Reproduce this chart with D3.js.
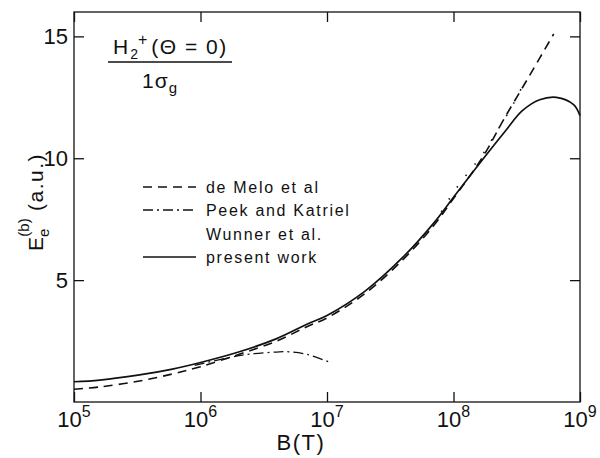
<!DOCTYPE html>
<html><head><meta charset="utf-8">
<script src="https://cdn.jsdelivr.net/npm/d3@7"></script>
<style>body{margin:0;background:#fff}svg{display:block}text{font-family:"Liberation Sans",Arial,sans-serif;fill:#111}</style>
</head><body><svg id="c" width="600" height="458"></svg>
<script>
const xTicks = [1e5, 1e6, 1e7, 1e8, 1e9];
const xTickExps = ["5", "6", "7", "8", "9"];
const yTicks = [5, 10, 15];

const presentB = [1e5, 1.6e5, 3.2e5, 6e5, 1e6, 2e6, 4e6, 7e6, 1e7, 2e7, 4e7, 7e7, 1e8, 1.7e8, 2.6e8, 3.5e8, 4.8e8, 6.5e8, 8.9e8, 1e9];
const presentE = [0.83, 0.9, 1.1, 1.35, 1.62, 2.05, 2.6, 3.2, 3.55, 4.55, 5.95, 7.35, 8.4, 9.95, 11.15, 11.95, 12.4, 12.5, 12.2, 11.75];

const meloB = [1e5, 1.6e5, 3.2e5, 6e5, 1e6, 2e6, 4e6, 7e6, 1e7, 2e7, 4e7, 7e7, 1e8, 1.7e8, 2.5e8, 4e8, 6.2e8];
const meloE = [0.52, 0.62, 0.85, 1.15, 1.45, 1.95, 2.5, 3.1, 3.45, 4.45, 5.85, 7.25, 8.35, 10.05, 11.6, 13.4, 15.1];

const peekB = [9e5, 1.6e6, 2.5e6, 4e6, 5e6, 7e6, 1.05e7];
const peekE = [1.5, 1.8, 1.97, 2.05, 2.06, 1.95, 1.63];

const wunnerB = [8e7, 1e8, 1.3e8, 1.7e8, 2.2e8, 2.9e8, 3.7e8];
const wunnerE = [7.8, 8.6, 9.4, 10.16, 11.1, 12.13, 13.2];

const legendLabels = ["de Melo et al", "Peek and Katriel", "Wunner et al.", "present work"];

const svg = d3.select("#c");
const L = 74, R = 580, T = 12, B = 402;
const x = d3.scaleLog().domain([1e5, 1e9]).range([L, R]);
const y = d3.scaleLinear().domain([0, 16]).range([B, T]);

svg.append("rect").attr("x", L).attr("y", T).attr("width", R - L).attr("height", B - T)
  .attr("fill", "none").attr("stroke", "#111").attr("stroke-width", 1.3);

const gx = svg.append("g").attr("transform", `translate(0,${B})`)
  .call(d3.axisBottom(x).tickValues(xTicks).tickSize(-10).tickFormat(""));
const gxt = svg.append("g").attr("transform", `translate(0,${T})`)
  .call(d3.axisTop(x).tickValues(xTicks).tickSize(-10).tickFormat(""));
const gy = svg.append("g").attr("transform", `translate(${L},0)`)
  .call(d3.axisLeft(y).tickValues(yTicks).tickSize(-10).tickFormat(""));
const gyr = svg.append("g").attr("transform", `translate(${R},0)`)
  .call(d3.axisRight(y).tickValues(yTicks).tickSize(-10).tickFormat(""));
[gx, gxt, gy, gyr].forEach(g => {
  g.select(".domain").remove();
  g.selectAll("line").attr("stroke", "#111").attr("stroke-width", 1.3);
});

xTicks.forEach((v, i) => {
  const t = svg.append("text").attr("x", x(v)).attr("y", 427).attr("text-anchor", "middle")
    .attr("font-size", 22);
  t.append("tspan").text("10");
  t.append("tspan").attr("dy", -10).attr("font-size", 16).text(xTickExps[i]);
});
yTicks.forEach(v => {
  svg.append("text").attr("x", 68).attr("y", y(v) + 8).attr("text-anchor", "end")
    .attr("font-size", 22).text(v);
});

svg.append("text").attr("x", 301).attr("y", 450).attr("text-anchor", "middle")
  .attr("font-size", 22).attr("letter-spacing", 1.5).text("B(T)");
const yl = svg.append("text").attr("transform", "translate(43,202) rotate(-90)")
  .attr("text-anchor", "middle").attr("font-size", 21);
yl.append("tspan").text("E");
yl.append("tspan").attr("font-size", 15).attr("dy", 6).text("e");
yl.append("tspan").attr("font-size", 15).attr("dx", -8).attr("dy", -20).text("(b)");
yl.append("tspan").attr("dy", 14).attr("letter-spacing", 1.5).text(" (a.u.)");

const tt = svg.append("text").attr("x", 113).attr("y", 54).attr("font-size", 21);
tt.append("tspan").text("H");
tt.append("tspan").attr("font-size", 14).attr("dy", 5).attr("dx", 2).text("2");
tt.append("tspan").attr("font-size", 16).attr("dy", -14).text("+");
tt.append("tspan").attr("dy", 9).attr("dx", 4).attr("letter-spacing", 1.5).text("(Θ = 0)");
svg.append("line").attr("x1", 108).attr("x2", 232).attr("y1", 62).attr("y2", 62)
  .attr("stroke", "#111").attr("stroke-width", 1.6);
const t2 = svg.append("text").attr("x", 142).attr("y", 88).attr("font-size", 21);
t2.append("tspan").attr("letter-spacing", 1).text("1σ");
t2.append("tspan").attr("font-size", 15).attr("dy", 5).text("g");

const line = d3.line().x(d => x(d[0])).y(d => y(d[1])).curve(d3.curveCatmullRom.alpha(0.5));
const zip = (a, b) => a.map((v, i) => [v, b[i]]);
const styles = [
  {data: zip(meloB, meloE), dash: "9,6", w: 1.6},
  {data: zip(peekB, peekE), dash: "10,4,2,4", w: 1.3},
  {data: zip(wunnerB, wunnerE), dash: "1.5,13", w: 1.6},
  {data: zip(presentB, presentE), dash: null, w: 1.7}
];
styles.forEach(s => {
  svg.append("path").attr("d", line(s.data)).attr("fill", "none").attr("stroke", "#111")
    .attr("stroke-width", s.w).attr("stroke-dasharray", s.dash);
});

const legY = [187, 210, 234, 257];
legendLabels.forEach((lab, i) => {
  if (i !== 2) {
    svg.append("line").attr("x1", 143).attr("x2", 196).attr("y1", legY[i]).attr("y2", legY[i])
      .attr("stroke", "#111").attr("stroke-width", styles[i].w)
      .attr("stroke-dasharray", styles[i].dash);
  }
  svg.append("text").attr("x", 206).attr("y", legY[i] + 6).attr("font-size", 16)
    .attr("letter-spacing", 1.7).text(lab);
});
</script></body></html>
